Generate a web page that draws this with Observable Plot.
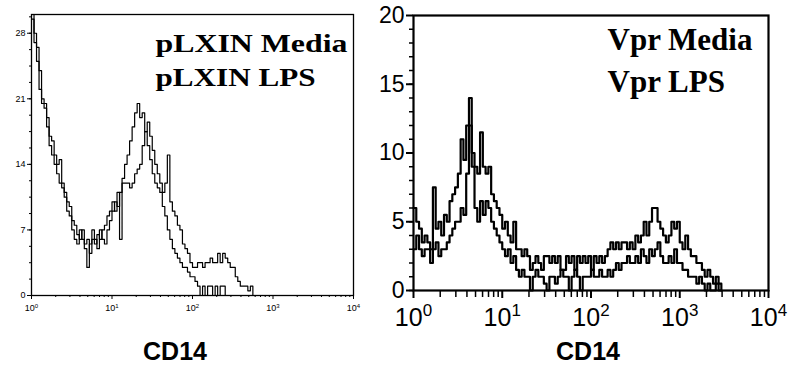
<!DOCTYPE html>
<html>
<head>
<meta charset="utf-8">
<script src="https://cdn.jsdelivr.net/npm/d3@7"></script>
<script src="https://cdn.jsdelivr.net/npm/@observablehq/plot@0.6"></script>
<style>
  html, body { margin: 0; padding: 0; background: #fff; }
  #wrap { position: relative; width: 789px; height: 387px; overflow: hidden; background: #fff; }
  #wrap > div.p { position: absolute; top: 0; }
  .xl { position: absolute; font-family: "Liberation Sans", Arial, sans-serif; font-weight: bold; font-size: 25px; color: #000; transform: translateX(-50%); }
</style>
</head>
<body>
<div id="wrap">
  <div class="p" id="left" style="left:0px"></div>
  <div class="p" id="right" style="left:370px"></div>
  <div class="xl" style="left:175px; top:337px">CD14</div>
  <div class="xl" style="left:588px; top:337px">CD14</div>
</div>
<script>
// ---- data: histogram counts per channel (32 channels per decade, starting at 10^0) ----
const binsPerDecade = 32;
const decadeTicks = [1, 10, 100, 1000, 10000];
const exponents = ["0", "1", "2", "3", "4"];

const leftYTicks = [0, 7, 14, 21, 28];
const leftLabels = ["pLXIN Media", "pLXIN LPS"];
const pLXINMedia = [29.5,28,26.5,24,21,20.5,19,17,16.5,15,14,14.5,12,11,10,9.5,8,7.5,6.5,6,7,5.5,6,4.5,6,5.5,6.5,6,7,7.5,8.5,9,10,9,11,6,12.5,14,15,16.5,18,19.5,20.5,19,19.5,17.5,16,14.5,13,12,11.5,11,9.5,8.5,7,6,5,4.5,4,3.5,3,3,2.5,2,2,1.5,1,0,1,0,1,1,0,1,0,1,1,0,0,0,0,0];
const pLXINLPS = [30,27,25,22,20.5,20,18,16,15,14,13,12,11.5,10.5,9,8.5,7,6,5.5,7,6,5,3,5.5,7,6,5,7,6,5.5,7,8,9,10,9.5,11,12,12,12,11.5,12,13,13.5,14,16,17.5,18.5,17,15.5,14,13,12,11,12,15,10,9,8.5,7.5,7,5.5,5,4.5,3.5,3,3,3.5,3.5,3,3.5,3.5,4,3.5,3.5,4.5,3.5,4.5,4,3.5,3,3,2,1.5,1,1,1,0.5,1,0,0];

const rightYTicks = [0, 5, 10, 15, 20];
const rightLabels = ["Vpr Media", "Vpr LPS"];
const vprMedia = [6,5,4.5,3.5,4,3.5,3,7.5,4.5,5, 4,5.5,5,6.5,7,7.5,8.5,11,9.5,12, 14,10,9,8.5,11.5,9,8.5,9,7,6.5, 6,5.5,4.5,5,4,3.5,5,3,3,2.5, 3,2.5,1.5,2,2.5,2,1.5,2.5,2.5,2, 2.5,2,2.5,1.5,1.5,2.5,2,2.5,1.5,2.5, 2,2.5,2,2.5,1.5,2.5,2,2.5,2,2.5, 3,3.5,3,3.5,3,3.5,3.5,3,3.5,3, 4,3.5,4,5,4,5,6,6,5,4.5, 4,3.5,4,5,4.5,5,3.5,3,4,3, 2.5,2.5,2,2,1.5,1,1.5,1,0.5,1, 0.5,0];
const vprLPS = [3,4,3,2.5,3,3,2,3,3.5,2.5, 3,3,3.5,4,4.5,5,5,6,5.5,8.5, 12,9,6,5,6.5,5.5,6.5,6,5,4.5, 4,3.5,3,2.5,3,2,2.5,1.5,1,1.5, 1,1,0,1,1.5,1,1,0.5,0,1, 1,0.5,1,1.5,1,1,0,1,1.5,1, 0,1,1,1,1.5,1,1,1.5,1,1, 1.5,1,1.5,2,1.5,2,2,2.5,2,2, 2.5,2,3,2.5,2,3,2.5,3,3.5,2.5, 2,2,2.5,2,3,2,2,1.5,1.5,1, 1,1,0.5,1,0.5,0,0.5,0,0,0.5, 0,0];

// ---- helpers ----
const toRows = (arr, series) => arr.map((v, i) => ({x: Math.pow(10, i / binsPerDecade), y: v, series}));
const minorTicks = decadeTicks.slice(0, -1).flatMap(d => d3.range(2, 10).map(k => k * d));
const fmtPow = d => "10^" + exponents[Math.round(Math.log10(d))];
const serif = "Liberation Serif, Times New Roman, serif";

// turn "10^n" tick labels into 10 with a raised exponent (real text, tspans)
function superscripts(svg, supSize, rise, shift) {
  d3.select(svg).selectAll("text").each(function() {
    const t = this.textContent;
    if (!/^10\^\d$/.test(t)) return;
    const [base, exp] = t.split("^");
    const sel = d3.select(this);
    const tspan = sel.select("tspan").empty() ? sel : sel.select("tspan");
    tspan.text(null);
    tspan.append("tspan").text(base);
    tspan.append("tspan").attr("font-size", supSize).attr("dy", -rise).attr("dx", shift).text(exp);
  });
}

// ---- left panel ----
const leftRows = [...toRows(pLXINMedia, leftLabels[0]), ...toRows(pLXINLPS, leftLabels[1])];
const leftPlot = Plot.plot({
  width: 380, height: 320,
  marginLeft: 31, marginRight: 27, marginTop: 14, marginBottom: 25,
  style: {fontFamily: "Liberation Sans, Arial, sans-serif", background: "white", color: "black"},
  x: {type: "log", domain: [1, 10000], axis: null},
  y: {domain: [0, 30], axis: null},
  marks: [
    Plot.line(leftRows, {x: "x", y: "y", z: "series", curve: "step-after", stroke: "black", strokeWidth: 1.2}),
    Plot.frame({stroke: "black", strokeWidth: 1.3}),
    Plot.axisY(leftYTicks, {label: null, tickSize: 4, tickPadding: 2, fontSize: 9, strokeWidth: 1}),
    Plot.axisY(d3.range(0, 29.9, 1.75), {label: null, tickSize: 2, text: null}),
    Plot.axisX(decadeTicks, {label: null, tickSize: 4, tickPadding: 5, fontSize: 9, tickFormat: fmtPow}),
    Plot.axisX(minorTicks, {label: null, tickSize: 2, text: null}),
    Plot.text(leftLabels.slice(0, 1), {frameAnchor: "top-left", text: d => d, textAnchor: "start", lineAnchor: "top", dx: 124, dy: 19, fontSize: 26, fontWeight: "bold", fontFamily: serif}),
    Plot.text(leftLabels.slice(1), {frameAnchor: "top-left", text: d => d, textAnchor: "start", lineAnchor: "top", dx: 124, dy: 53, fontSize: 26, fontWeight: "bold", fontFamily: serif})
  ]
});
// horizontally stretched legend text as in the reference
d3.select(leftPlot).selectAll("text").each(function() {
  if (this.textContent === leftLabels[0]) { this.setAttribute("textLength", 192); this.setAttribute("lengthAdjust", "spacingAndGlyphs"); }
  if (this.textContent === leftLabels[1]) { this.setAttribute("textLength", 160); this.setAttribute("lengthAdjust", "spacingAndGlyphs"); }
});
superscripts(leftPlot, 6, 3, 0);
document.getElementById("left").appendChild(leftPlot);

// ---- right panel ----
const rightRows = [...toRows(vprMedia, rightLabels[0]), ...toRows(vprLPS, rightLabels[1])];
const narrow = "Liberation Sans Narrow, Arial Narrow, Liberation Sans, Arial, sans-serif";
const rightPlot = Plot.plot({
  width: 419, height: 340,
  marginLeft: 43, marginRight: 21, marginTop: 15, marginBottom: 50,
  style: {fontFamily: narrow, background: "white", color: "black"},
  x: {type: "log", domain: [1, 10000], axis: null},
  y: {domain: [0, 20], axis: null},
  marks: [
    Plot.line(rightRows, {x: "x", y: "y", z: "series", curve: "step-after", stroke: "black", strokeWidth: 2.2}),
    Plot.frame({stroke: "black", strokeWidth: 2.2}),
    Plot.axisY(rightYTicks, {label: null, tickSize: 7, tickPadding: 2, fontSize: 23, strokeWidth: 2}),
    Plot.axisY(d3.range(0, 20, 1), {label: null, tickSize: 4, text: null, strokeWidth: 1.5}),
    Plot.axisX(decadeTicks, {label: null, tickSize: 8, tickPadding: 10, fontSize: 25, tickFormat: fmtPow, strokeWidth: 2}),
    Plot.axisX(minorTicks, {label: null, tickSize: 7, text: null, strokeWidth: 1.5}),
    Plot.text(rightLabels.slice(0, 1), {frameAnchor: "top-left", text: d => d, textAnchor: "start", lineAnchor: "top", dx: 194, dy: 12, fontSize: 31, fontWeight: "bold", fontFamily: serif}),
    Plot.text(rightLabels.slice(1), {frameAnchor: "top-left", text: d => d, textAnchor: "start", lineAnchor: "top", dx: 194, dy: 54, fontSize: 31, fontWeight: "bold", fontFamily: serif})
  ]
});
superscripts(rightPlot, 17, 10, 0);
document.getElementById("right").appendChild(rightPlot);
</script>
</body>
</html>
